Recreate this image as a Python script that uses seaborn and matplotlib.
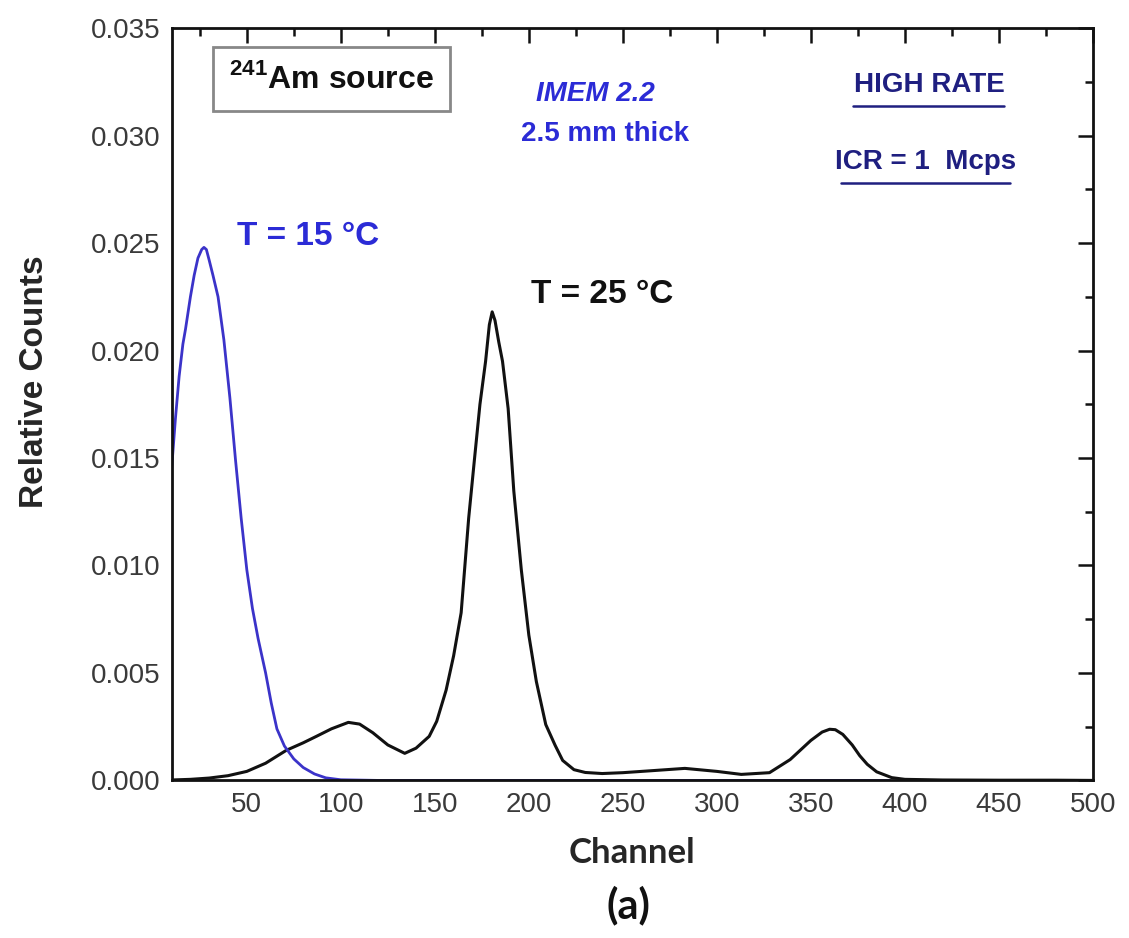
import matplotlib
matplotlib.use("Agg")
import matplotlib.pyplot as plt
from matplotlib.ticker import MultipleLocator
import numpy as np
import pandas as pd
import seaborn as sns

sns.set_theme(style="white")
plt.rcParams['font.family'] = ['Liberation Sans', 'DejaVu Sans']
plt.rcParams['mathtext.fontset'] = 'custom'
plt.rcParams['mathtext.rm'] = 'Liberation Sans:bold'
plt.rcParams['mathtext.bf'] = 'Liberation Sans:bold'

# T = 25 C spectrum (black)
ch_25 = [10, 20, 30, 40, 50, 60, 71, 80, 87, 95, 104, 110, 117, 125, 134, 140, 147,
         151, 156, 160, 164, 168, 171, 174, 177, 179, 180.5, 182, 184, 186, 189, 192,
         196, 200, 204, 209, 214, 218, 224, 230, 239, 250, 265, 283, 300, 313, 328,
         339, 350, 356, 360, 363, 367, 372, 376, 380, 385, 393, 400, 420, 450, 480, 500]
counts_25 = [0.00002, 0.00005, 0.00011, 0.00022, 0.00042, 0.00080, 0.00140, 0.00175,
             0.00205, 0.00240, 0.00270, 0.00262, 0.00222, 0.00165, 0.00126, 0.00150,
             0.00205, 0.00275, 0.00420, 0.00580, 0.00780, 0.01220, 0.01487, 0.01750,
             0.01950, 0.02120, 0.02180, 0.02140, 0.02040, 0.01950, 0.01730, 0.01347,
             0.00980, 0.00676, 0.00460, 0.00260, 0.00163, 0.00093, 0.00050, 0.00037,
             0.00032, 0.00036, 0.00045, 0.00056, 0.00042, 0.00028, 0.00036, 0.00097,
             0.00186, 0.00225, 0.00238, 0.00236, 0.00214, 0.00165, 0.00115, 0.00075,
             0.00040, 0.00013, 0.00005, 0.00002, 0.00001, 0.00001, 0.00000]

# T = 15 C spectrum (blue)
ch_15 = [10, 12, 14, 16, 17.4, 20, 22, 24, 26, 27.2, 28.5, 30, 32, 34.7, 37.8, 41, 44,
         47, 50, 53, 56, 60, 63, 66, 70, 75, 80, 86, 92, 100, 120, 150, 200, 250, 300,
         350, 392]
counts_15 = [0.0145, 0.0168, 0.0188, 0.0203, 0.0210, 0.0225, 0.0235, 0.0243, 0.0247,
             0.0248, 0.0247, 0.0242, 0.0235, 0.0225, 0.0205, 0.0178, 0.0149, 0.0122,
             0.0098, 0.0080, 0.0066, 0.0050, 0.0036, 0.0024, 0.0016, 0.0010, 0.0006,
             0.0003, 0.00012, 0.00003, 0.0, 0.0, 0.0, 0.0, 0.0, 0.0, 0.0]

df25 = pd.DataFrame({"Channel": ch_25, "Counts": counts_25})
df15 = pd.DataFrame({"Channel": ch_15, "Counts": counts_15})

fig = plt.figure(figsize=(11.29, 9.38), dpi=100)
ax = fig.add_axes([0.152, 0.168, 0.816, 0.802])

sns.lineplot(data=df25, x="Channel", y="Counts", ax=ax, color="#111111", lw=2.2)
sns.lineplot(data=df15, x="Channel", y="Counts", ax=ax, color="#3b33c9", lw=2.0)

ax.set_xlim(10, 500)
ax.set_ylim(0, 0.035)
ax.xaxis.set_major_locator(MultipleLocator(50))
ax.xaxis.set_minor_locator(MultipleLocator(25))
ax.yaxis.set_major_locator(MultipleLocator(0.005))
ax.yaxis.set_minor_locator(MultipleLocator(0.0025))
ax.yaxis.set_major_formatter(plt.FormatStrFormatter('%.3f'))
ax.tick_params(which='both', direction='in', top=True, right=True, width=1.8,
               color='#111111')
ax.tick_params(which='major', length=11, labelsize=20, labelcolor='#3a3a3a', pad=8)
ax.tick_params(which='minor', length=6)
for s in ax.spines.values():
    s.set_linewidth(2.0)
    s.set_color('#111111')

ax.set_xlabel("Channel", family=['Lato', 'DejaVu Sans'], fontweight='bold',
              fontsize=25, labelpad=14)
ax.set_ylabel("Relative Counts", fontweight='bold', fontsize=24)
ax.yaxis.set_label_coords(-0.132, 0.53)

ax.text(0.174, 0.932, r"$^{241}$Am source", transform=ax.transAxes, ha='center',
        va='center', fontsize=23, fontweight='bold', color='#111111',
        bbox=dict(boxstyle='square,pad=0.5', fc='white', ec='#888888', lw=2.0))
ax.text(0.46, 0.912, "IMEM 2.2", transform=ax.transAxes, ha='center', va='center',
        fontsize=20, fontweight='bold', style='italic', color='#2b2bd6')
ax.text(0.47, 0.859, "2.5 mm thick", transform=ax.transAxes, ha='center', va='center',
        fontsize=20, fontweight='bold', color='#2b2bd6')
ax.text(0.822, 0.924, "HIGH RATE", transform=ax.transAxes, ha='center', va='center',
        fontsize=20, fontweight='bold', color='#1f1f80')
ax.text(0.818, 0.822, "ICR = 1  Mcps", transform=ax.transAxes, ha='center', va='center',
        fontsize=20, fontweight='bold', color='#1f1f80')
# underlines
ax.plot([0.740, 0.904], [0.896, 0.896], transform=ax.transAxes, color='#1f1f80', lw=1.8)
ax.plot([0.727, 0.910], [0.794, 0.794], transform=ax.transAxes, color='#1f1f80', lw=1.8)

ax.text(0.148, 0.723, "T = 15 °C", transform=ax.transAxes, ha='center', va='center',
        fontsize=24, fontweight='bold', color='#2b2bd6')
ax.text(0.467, 0.646, "T = 25 °C", transform=ax.transAxes, ha='center', va='center',
        fontsize=24, fontweight='bold', color='#111111')

fig.text(0.557, 0.035, "(a)", family=['Lato', 'DejaVu Sans'], fontweight='bold',
         fontsize=30, ha='center', va='center', color='#111111')

fig.savefig("out.png", dpi=100, facecolor='white')
